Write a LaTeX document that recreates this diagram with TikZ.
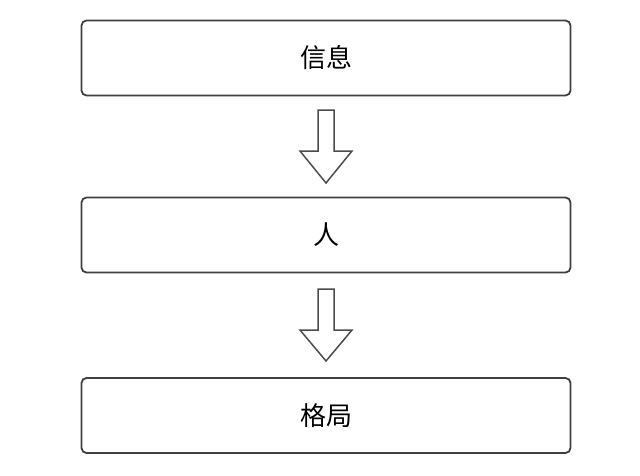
\documentclass[tikz,border=0pt]{standalone}
\usepackage{fontspec}
\newfontfamily\cjk{Noto Sans CJK SC}
\begin{document}
\begin{tikzpicture}[x=1pt,y=-1pt,
  box/.style={draw=black!75,line width=1.8pt,rounded corners=5pt,minimum width=489pt,minimum height=75pt,inner sep=0pt,font=\cjk\fontsize{26}{26}\selectfont},
  blockarrow/.style={draw=black!70,line width=1.5pt,fill=white,line join=miter}]
\useasboundingbox (0,0) rectangle (640,475);
\fill[white] (0,0) rectangle (640,475);
\node[box] (b1) at (326,58) {信息};
\node[box] (b2) at (326,235) {人};
\node[box] (b3) at (326,415.5) {格局};
\coordinate (a1) at (326,110);
\coordinate (a2) at (326,289);
\draw[blockarrow] (a1) ++(-8,0) -- ++(16,0) -- ++(0,41) -- ++(18,0) -- ++(-26,32) -- ++(-26,-32) -- ++(18,0) -- cycle;
\draw[blockarrow] (a2) ++(-8,0) -- ++(16,0) -- ++(0,41) -- ++(18,0) -- ++(-26,31) -- ++(-26,-31) -- ++(18,0) -- cycle;
\end{tikzpicture}
\end{document}
